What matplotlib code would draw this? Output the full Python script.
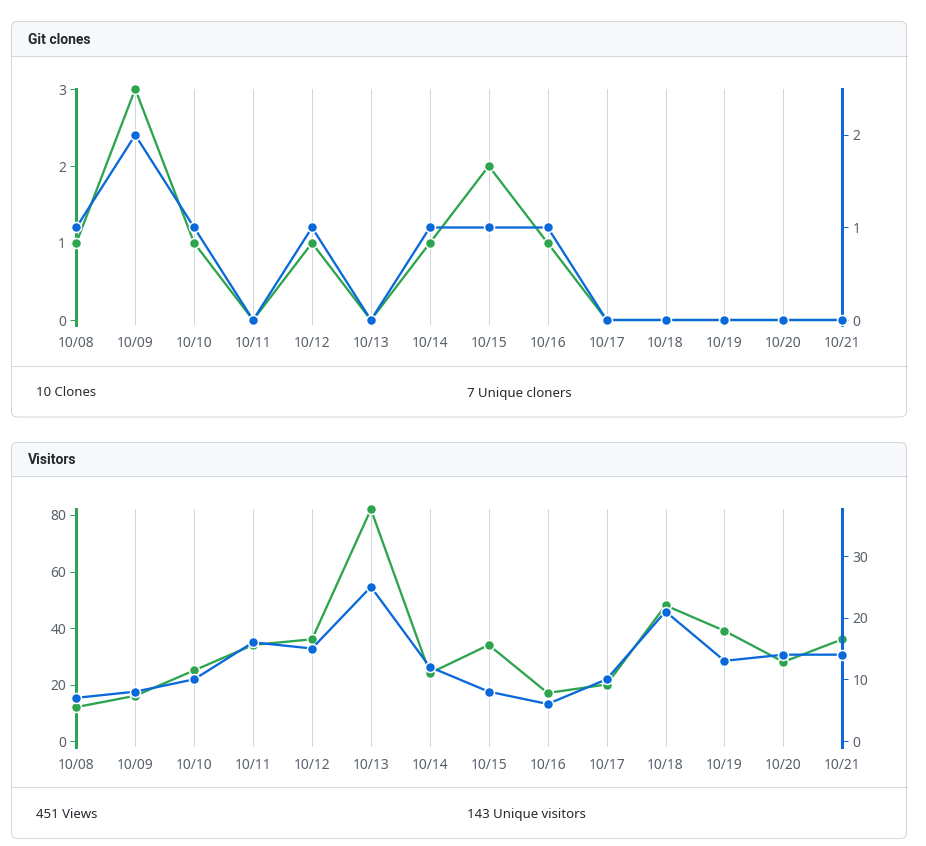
import matplotlib
matplotlib.use("Agg")
import matplotlib.pyplot as plt
from matplotlib.patches import FancyBboxPatch, Rectangle

plt.rcParams['font.family'] = ['Noto Sans', 'DejaVu Sans']

# ---------------- data ----------------
dates = ["10/08", "10/09", "10/10", "10/11", "10/12", "10/13", "10/14",
         "10/15", "10/16", "10/17", "10/18", "10/19", "10/20", "10/21"]
clones = [1, 3, 1, 0, 1, 0, 1, 2, 1, 0, 0, 0, 0, 0]
unique_cloners = [1, 2, 1, 0, 1, 0, 1, 1, 1, 0, 0, 0, 0, 0]
views = [12, 16, 25, 34, 36, 82, 24, 34, 17, 20, 48, 39, 28, 36]
unique_visitors = [7, 8, 10, 16, 15, 25, 12, 8, 6, 10, 21, 13, 14, 14]
clones_left_ticks = [0, 1, 2, 3]
clones_right_ticks = [0, 1, 2]
visitors_left_ticks = [0, 20, 40, 60, 80]
visitors_right_ticks = [0, 10, 20, 30]
clones_total_label = "10 Clones"
cloners_total_label = "7 Unique cloners"
views_total_label = "451 Views"
visitors_total_label = "143 Unique visitors"

# ---------------- style ----------------
W, H = 926, 846
GREEN = "#2da44e"
BLUE = "#0969da"
GRID = "#d0d7de"
BORDER = "#d0d7de"
HEADER_BG = "#f6f8fa"
TEXT = "#24292f"
MUTED = "#57606a"
PX = 0.72  # points per pixel at dpi 100

fig = plt.figure(figsize=(W / 100, H / 100), dpi=100)
bg = fig.add_axes([0, 0, 1, 1], zorder=0)
bg.set_xlim(0, W)
bg.set_ylim(H, 0)
bg.axis("off")


def panel(top, header_bottom, footer_top, bottom, title, foot_l, foot_r):
    left, right, r = 11.5, 906.5, 6
    bg.add_patch(FancyBboxPatch((left, top), right - left, bottom - top,
                                boxstyle=f"round,pad=0,rounding_size={r}",
                                fc=HEADER_BG, ec="none"))
    bg.add_patch(FancyBboxPatch((left, header_bottom), right - left, bottom - header_bottom,
                                boxstyle=f"round,pad=0,rounding_size={r}",
                                fc="white", ec="none"))
    bg.add_patch(Rectangle((left, header_bottom), right - left, 12, fc="white", ec="none"))
    bg.add_patch(FancyBboxPatch((left, top), right - left, bottom - top,
                                boxstyle=f"round,pad=0,rounding_size={r}",
                                fc="none", ec=BORDER, lw=1 * PX))
    bg.plot([left, right], [header_bottom, header_bottom], color=BORDER, lw=1 * PX)
    bg.plot([left, right], [footer_top, footer_top], color=BORDER, lw=1 * PX)
    bg.text(28, (top + header_bottom) / 2 + 0.5, title, fontsize=10, fontweight="bold",
            family=["Roboto", "DejaVu Sans"], color=TEXT, va="center", ha="left")
    fy = (footer_top + bottom) / 2 + 1.5
    bg.text(36, fy, foot_l, fontsize=9.5, color=TEXT, va="center", ha="left")
    bg.text(467, fy, foot_r, fontsize=9.5, color=TEXT, va="center", ha="left")


def chart(ax_top, ax_bottom, zero_px, left_vals, right_vals, lticks, rticks,
          left_ref, right_ref):
    x0, x1 = 76.3, 842.3
    ax = fig.add_axes([x0 / W, 1 - ax_bottom / H, (x1 - x0) / W, (ax_bottom - ax_top) / H],
                      zorder=2)
    ax.patch.set_alpha(0)
    xs = list(range(len(dates)))
    ax.set_xlim(0, len(dates) - 1)
    lv, lp = left_ref
    lscale = (zero_px - lp) / lv
    ax.set_ylim(-(ax_bottom - zero_px) / lscale, (zero_px - ax_top) / lscale)
    ax2 = ax.twinx()
    ax2.set_zorder(3)
    rv, rp = right_ref
    rscale = (zero_px - rp) / rv
    ax2.set_ylim(-(ax_bottom - zero_px) / rscale, (zero_px - ax_top) / rscale)

    ax.set_xticks(xs)
    ax.set_xticklabels(dates)
    ax.grid(axis="x", color=GRID, lw=1 * PX)
    ax.set_axisbelow(True)
    for a in (ax, ax2):
        for s in a.spines.values():
            s.set_visible(False)
    ax.spines["left"].set_visible(True)
    ax.spines["left"].set_color(GREEN)
    ax.spines["left"].set_linewidth(3 * PX)
    ax2.spines["right"].set_visible(True)
    ax2.spines["right"].set_color(BLUE)
    ax2.spines["right"].set_linewidth(3 * PX)

    ax.tick_params(axis="x", length=0, pad=8, labelsize=10, labelcolor=MUTED)
    ax.set_yticks(lticks)
    ax.tick_params(axis="y", length=6 * PX, width=1 * PX, color=GREEN, pad=3,
                   labelsize=10, labelcolor=MUTED)
    ax2.set_yticks(rticks)
    ax2.tick_params(axis="y", length=6 * PX, width=1 * PX, color=BLUE, pad=3,
                    labelsize=10, labelcolor=MUTED)

    ax.plot(xs, left_vals, color=GREEN, lw=2.3 * PX, marker="o", ms=7.2,
            mfc=GREEN, mec="white", mew=1.1, clip_on=False, zorder=3)
    ax2.plot(xs, right_vals, color=BLUE, lw=2.3 * PX, marker="o", ms=7.2,
             mfc=BLUE, mec="white", mew=1.1, clip_on=False, zorder=3)


panel(21.5, 56.5, 366, 417, "Git clones", clones_total_label, cloners_total_label)
panel(442.5, 476.5, 787.5, 838.5, "Visitors", views_total_label, visitors_total_label)

chart(89, 325, 320, clones, unique_cloners, clones_left_ticks, clones_right_ticks,
      (3, 89), (2, 135))
chart(509.3, 746.7, 741, views, unique_visitors, visitors_left_ticks, visitors_right_ticks,
      (80, 515), (30, 556))

fig.savefig("out.png", dpi=100)
